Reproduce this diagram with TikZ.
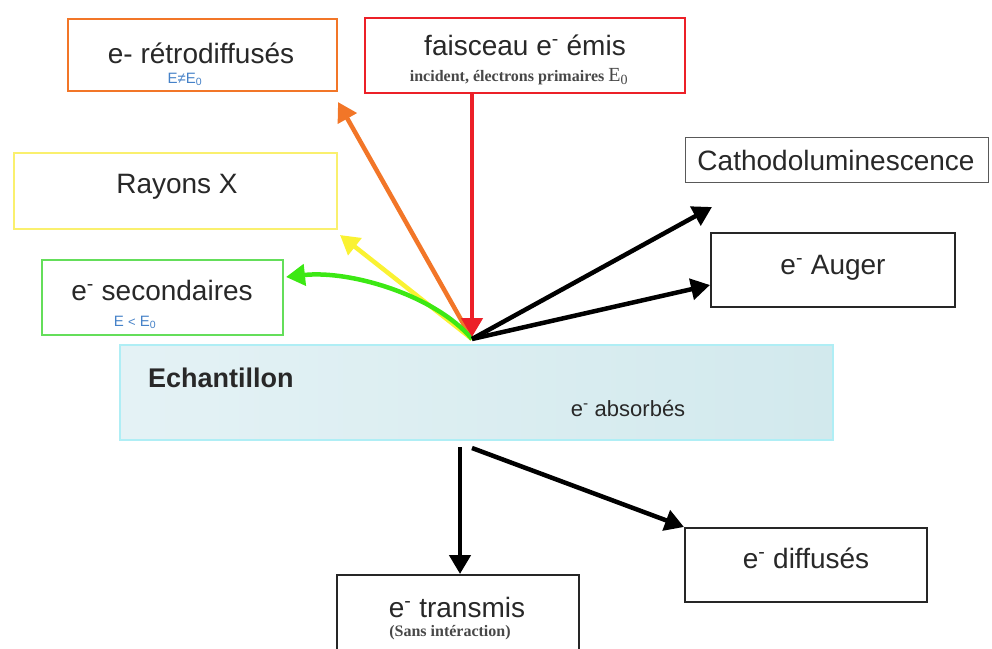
\documentclass[tikz,border=0pt]{standalone}
\usepackage{fontspec}
\setmainfont{Liberation Sans}
\newfontfamily\serifb{Liberation Serif}
\usetikzlibrary{arrows.meta}
\definecolor{cOrange}{RGB}{242,118,40}
\definecolor{cRed}{RGB}{236,32,40}
\definecolor{cYellow}{RGB}{250,242,50}
\definecolor{cYellowBox}{RGB}{250,240,110}
\definecolor{cGreen}{RGB}{60,232,20}
\definecolor{cGreenBox}{RGB}{100,222,90}
\definecolor{cBlue}{RGB}{70,130,200}
\definecolor{cEdge}{RGB}{175,238,245}
\definecolor{cTxt}{RGB}{40,40,40}
\definecolor{cShA}{RGB}{228,242,245}
\definecolor{cShB}{RGB}{176,216,223}
\definecolor{cShC}{RGB}{210,233,237}
\begin{document}
\begin{tikzpicture}[x=1pt,y=-1pt,
  box/.style={draw, line width=2pt, rectangle, inner sep=0pt, fill=white},
  lbl/.style={anchor=base, inner sep=0pt, font=\fontsize{28}{30}\selectfont, text=cTxt},
  subt/.style={anchor=base, inner sep=0pt, font=\serifb\bfseries\fontsize{16}{18}\selectfont, text=cTxt!85},
  note/.style={anchor=base, inner sep=0pt, font=\fontsize{15}{17}\selectfont, text=cBlue},
  ray/.style={line width=4.5pt, -{Triangle[length=19pt,width=21pt]}},
]
\useasboundingbox (0,0) rectangle (992,648);
\clip (0,0) rectangle (992,648);

% boxes
\node[box, draw=cOrange, minimum width=269pt, minimum height=72pt] (retro) at (202.5,55) {};
\node[box, draw=cRed, minimum width=320pt, minimum height=75pt] (faisc) at (525,55.5) {};
\node[box, draw=black!65, line width=1pt, minimum width=303pt, minimum height=45pt] (cath) at (836.5,159.5) {};
\node[box, draw=cYellowBox, minimum width=323pt, minimum height=76pt] (rx) at (175.5,191) {};
\node[box, draw=black!85, minimum width=244pt, minimum height=74pt] (auger) at (833,270) {};
\node[box, draw=cGreenBox, minimum width=241pt, minimum height=75pt] (sec) at (162.5,297.5) {};
\node[box, draw=black!85, minimum width=242pt, minimum height=74pt] (diff) at (806,565) {};
\node[box, draw=black!85, minimum width=242pt, minimum height=90pt] (trans) at (458,620) {};

% sample
\node[rectangle, inner sep=0pt, minimum width=713pt, minimum height=95pt,
      draw=cEdge, line width=2.5pt, left color=cShA, middle color=cShB, right color=cShC] (ech) at (476.5,392.5) {};

% texts
\node[lbl] (tretro) at (201,63) {e- rétrodiffusés};
\node[note] (tretroE) at (185,83) {E≠E\textsubscript{0}};
\node[lbl] (tfaisc) at (525,55) {faisceau e\textsuperscript{-} émis};
\node[subt] (tfaiscs) at (519,81) {incident, électrons primaires {\mdseries\fontsize{20}{20}\selectfont E\textsubscript{0}}};
\node[lbl] (tcath) at (836,170) {Cathodoluminescence};
\node[lbl] (trx) at (177,193) {Rayons X};
\node[lbl] (tauger) at (833,274) {e\textsuperscript{-} Auger};
\node[lbl] (tsec) at (162,300) {e\textsuperscript{-} secondaires};
\node[note] (tsecE) at (135,326) {E {\fontsize{13}{14}\selectfont<} E\textsubscript{0}};
\node[lbl, anchor=base west, font=\bfseries\fontsize{27}{30}\selectfont] (tech) at (148,387) {Echantillon};
\node[lbl, font=\fontsize{22}{26}\selectfont] (tabs) at (628,416) {e\textsuperscript{-} absorbés};
\node[lbl] (tdiff) at (806,568) {e\textsuperscript{-} diffusés};
\node[lbl] (ttrans) at (457,617) {e\textsuperscript{-} transmis};
\node[subt] (ttranss) at (450,636) {(Sans intéraction)};

% connector end points
\coordinate (hub) at (472,339);
\coordinate (hubR) at (472,337);
\coordinate (retroTip) at (338,102);
\coordinate (rxTip) at (340,235);
\coordinate (secTip) at (286,277);
\coordinate (cathTip) at (712,207);
\coordinate (augerTip) at ([yshift=-15pt]auger.west);
\coordinate (b1) at (460,447);
\coordinate (b2) at (472,448);

% arrows
\draw[ray, cOrange] (hub) -- (retroTip);
\draw[ray, cYellow] (hub) -- (rxTip);
\draw[ray, cGreen] (hub) .. controls (435,295) and (350,270) .. (secTip);
\draw[ray, cRed] (faisc.south -| hubR) -- (hubR);
\draw[ray, black] (hub) -- (cathTip);
\draw[ray, black] (hub) -- (augerTip);
\draw[ray, black] (b1) -- (trans.north -| b1);
\draw[ray, black] (b2) -- (diff.north west);
\end{tikzpicture}
\end{document}
